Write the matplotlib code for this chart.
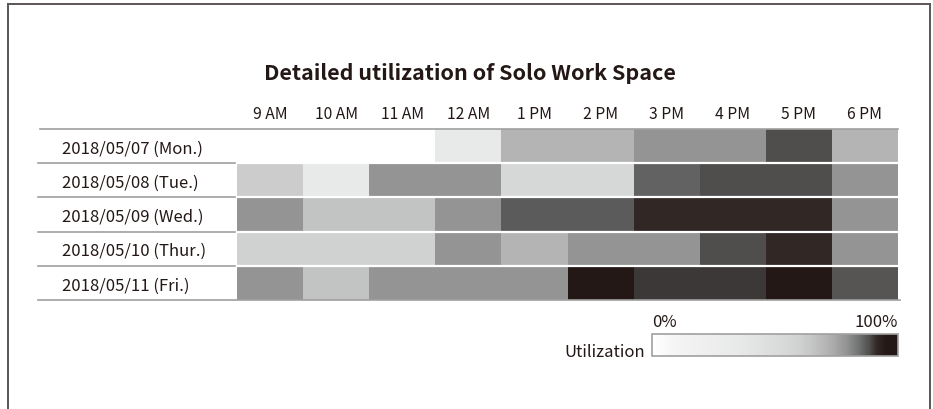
import matplotlib
matplotlib.use("Agg")
import matplotlib.pyplot as plt
import numpy as np
from matplotlib.colors import LinearSegmentedColormap, Normalize
from matplotlib.lines import Line2D
import matplotlib.cm as cm

plt.rcParams['font.family'] = ['Noto Sans CJK JP', 'DejaVu Sans']

title = "Detailed utilization of Solo Work Space"
hours = ["9 AM", "10 AM", "11 AM", "12 AM", "1 PM", "2 PM", "3 PM", "4 PM", "5 PM", "6 PM"]
days = ["2018/05/07 (Mon.)", "2018/05/08 (Tue.)", "2018/05/09 (Wed.)",
        "2018/05/10 (Thur.)", "2018/05/11 (Fri.)"]
mon = [0, 0, 0, 35, 71, 71, 79, 79, 88.5, 71]
tue = [62, 35, 79, 79, 55, 55, 86, 88.5, 88.5, 79]
wed = [79, 66, 66, 79, 87, 87, 91.5, 91.5, 91.5, 79]
thu = [60, 60, 60, 79, 71, 79, 79, 88.5, 91.5, 79]
fri = [79, 66, 79, 79, 79, 95, 90, 90, 95, 87.5]
values = np.array([mon, tue, wed, thu, fri])

stops = [(0.00, "#ffffff"), (0.10, "#f4f4f4"), (0.35, "#e8e9e9"), (0.55, "#d6d8d8"),
         (0.60, "#d0d1d1"), (0.62, "#cccccc"), (0.66, "#c2c3c3"), (0.71, "#b4b4b4"),
         (0.79, "#949695"), (0.86, "#646464"), (0.87, "#5c5c5c"), (0.875, "#595756"),
         (0.885, "#52504e"), (0.90, "#3e3a39"), (0.915, "#322826"), (0.95, "#231816"),
         (1.00, "#231816")]
cmap = LinearSegmentedColormap.from_list("util", stops)
norm = Normalize(0, 100)

W, H = 933, 410
fig = plt.figure(figsize=(W / 100, H / 100), dpi=100)

def fx(px):
    return px / W

def fy(py):
    return 1 - py / H

txt_c = "#231816"

# outer frame
frame_c = "#5a5656"
fig.add_artist(Line2D([fx(8), fx(8)], [fy(5), 0], transform=fig.transFigure, color=frame_c, lw=1.4))
fig.add_artist(Line2D([fx(8), fx(930)], [fy(5), fy(5)], transform=fig.transFigure, color=frame_c, lw=1.4))
fig.add_artist(Line2D([fx(930), fx(930)], [fy(5), 0], transform=fig.transFigure, color=frame_c, lw=1.4))

# heatmap
x0, x1, y0, y1 = 237, 898, 130, 301
ax = fig.add_axes([fx(x0), fy(y1), fx(x1) - fx(x0), (y1 - y0) / H])
ax.pcolormesh(np.arange(len(hours) + 1), np.arange(len(days) + 1), values,
              cmap=cmap, norm=norm, shading="flat")
ax.set_xlim(0, len(hours))
ax.set_ylim(len(days), 0)
for s in ax.spines.values():
    s.set_visible(False)
ax.xaxis.tick_top()
ax.set_xticks(np.arange(len(hours)) + 0.5)
ax.set_xticklabels(hours, fontsize=11.3, color=txt_c)
ax.set_yticks(np.arange(len(days)) + 0.5)
ax.set_yticklabels(days, fontsize=12, color=txt_c, ha="left")
ax.tick_params(axis="both", length=0)
ax.tick_params(axis="x", pad=5)
ax.tick_params(axis="y", pad=(x0 - 62) * 0.72)

wpx = x1 - x0
line_c = "#a0a0a0"
for i in range(1, len(days)):
    ax.axhline(i, color="white", lw=1.6)
    ax.axhline(i, xmin=-(x0 - 38) / wpx, xmax=-2 / wpx, color=line_c, lw=1.2, clip_on=False)
ax.axhline(0, xmin=-(x0 - 40) / wpx, xmax=1, color=line_c, lw=1.2, clip_on=False)
ax.axhline(len(days), xmin=-(x0 - 38) / wpx, xmax=(900 - x0) / wpx, color=line_c, lw=1.2, clip_on=False)

fig.text(fx(470), fy(74), title, ha="center", va="center", fontsize=15.5,
         fontweight="bold", color=txt_c)

# colorbar
cx0, cx1, cy0, cy1 = 652, 898, 335, 357
cax = fig.add_axes([fx(cx0), fy(cy1), fx(cx1) - fx(cx0), (cy1 - cy0) / H])
sm = cm.ScalarMappable(norm=norm, cmap=cmap)
cb = fig.colorbar(sm, cax=cax, orientation="horizontal")
cb.set_ticks([])
cb.outline.set_edgecolor("#a0a0a0")
cb.outline.set_linewidth(1.2)
cax.text(0.0, 1.2, "0%", transform=cax.transAxes, ha="left", va="bottom",
         fontsize=12, color=txt_c)
cax.text(1.0, 1.2, "100%", transform=cax.transAxes, ha="right", va="bottom",
         fontsize=12, color=txt_c)
cax.text(-0.03, 0.2, "Utilization", transform=cax.transAxes, ha="right", va="center",
         fontsize=12, color=txt_c)

fig.savefig("out.png", dpi=100, facecolor="white")
